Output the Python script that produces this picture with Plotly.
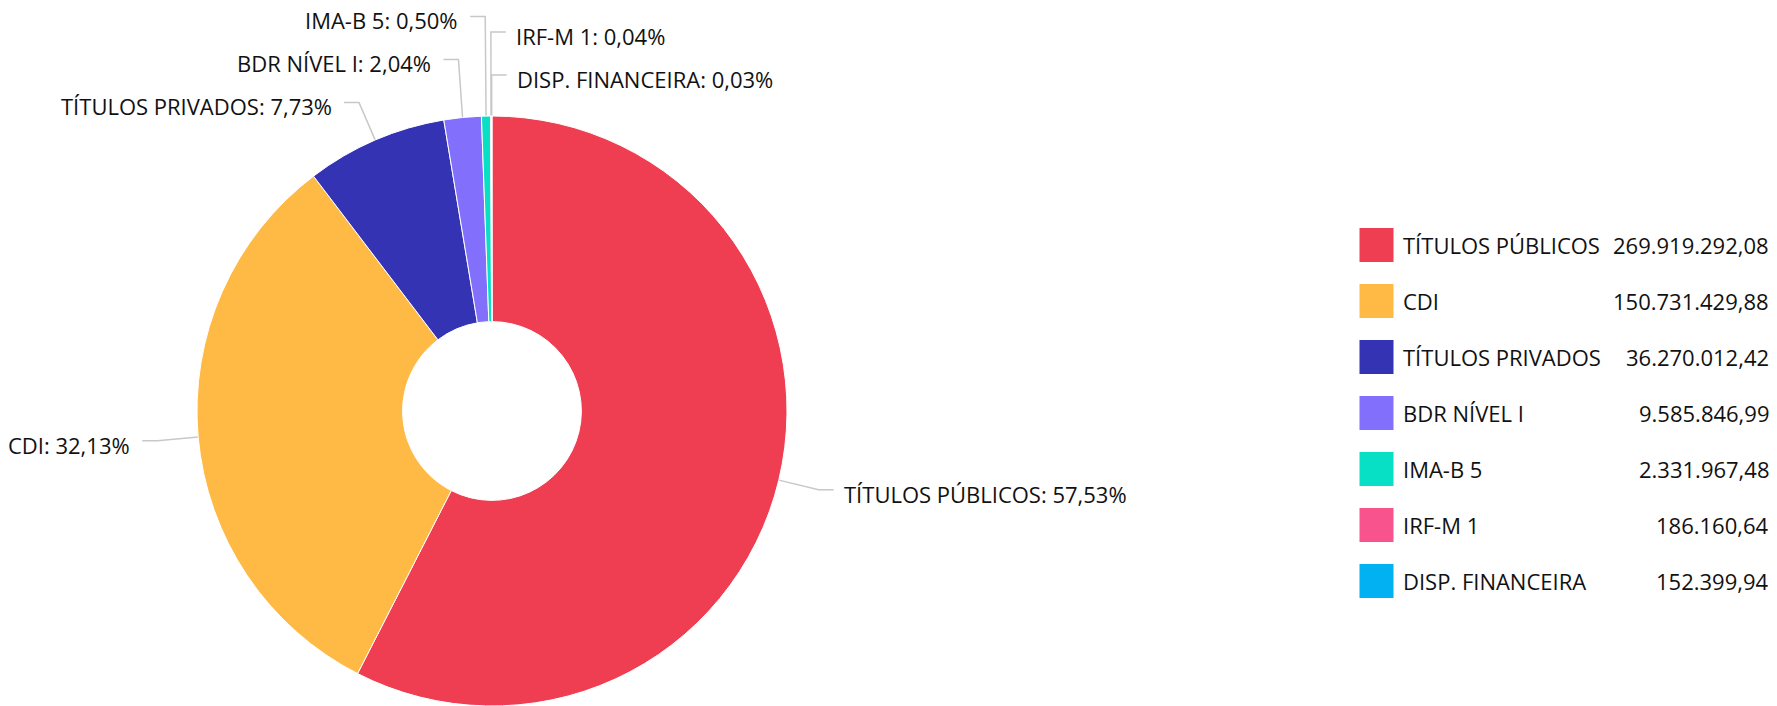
import math
import plotly.graph_objects as go

# ---------------- data ----------------
categories = ["TÍTULOS PÚBLICOS", "CDI", "TÍTULOS PRIVADOS", "BDR NÍVEL I",
              "IMA-B 5", "IRF-M 1", "DISP. FINANCEIRA"]
values = [269919292.08, 150731429.88, 36270012.42, 9585846.99,
          2331967.48, 186160.64, 152399.94]
colors = ["#EF3D52", "#FFBA45", "#3333B3", "#8270FC", "#07E0C4", "#F9538D", "#01B1F1"]

# ---------------- layout constants ----------------
PAGE_W, PAGE_H = 1777, 706
OFF = 8                    # default body margin of the html page
W, H = PAGE_W - OFF, PAGE_H - OFF
CX, R = 492 - OFF, 295     # pie centre x and radius (px, figure space)
CY = H - R                 # pie sits on the bottom edge
HOLE = 0.303
R_LABEL = R + 41           # radius where connectors break
SPACING = 43               # min vertical distance between labels
HSEG = 15                  # horizontal connector segment
FONT = "Open Sans"
FS = 22
TXT = "#111111"
LINE = "#c8c8c8"

LEG_TOP, LEG_ROW = 217 - OFF, 56
SW_X, NAME_X, VAL_X = 1376.5 - OFF, 1401 - OFF, 1771 - OFF


def br_num(v):
    s = f"{v:,.2f}"
    return s.replace(",", "#").replace(".", ",").replace("#", ".")


def br_pct(p):
    return f"{p:.2f}".replace(".", ",") + "%"


total = sum(values)
pcts = [v / total * 100 for v in values]
mids = []
acc = 0.0
for v in values:
    mids.append(360.0 * (acc + v / 2) / total)
    acc += v

fig = go.Figure()

fig.add_trace(go.Pie(
    labels=categories, values=values, sort=False, direction="clockwise", rotation=0,
    hole=HOLE, textinfo="none", hoverinfo="label+percent+value",
    marker=dict(colors=colors, line=dict(color="#ffffff", width=1)),
    domain=dict(x=[(CX - R) / W, (CX + R) / W], y=[0, 2 * R / H]),
    showlegend=False,
))

# ---------------- outside labels with connectors ----------------
def pt(theta, r):
    a = math.radians(theta)
    return CX + r * math.sin(a), CY - r * math.cos(a)

right, left = [], []
for i, th in enumerate(mids):
    if th < 180 or th > 359.5:
        right.append(i)
    else:
        left.append(i)
right.sort(key=lambda i: mids[i] - 360 if mids[i] > 180 else mids[i])
left.sort(key=lambda i: -mids[i])

label_y = {}
for group in (right, left):
    nxt = None
    for i in reversed(group):
        y = pt(mids[i], R_LABEL)[1]
        if nxt is not None:
            y = min(y, nxt - SPACING)
        label_y[i] = y
        nxt = y

lx, ly = [], []
annotations = []
for i in range(len(categories)):
    side = 1 if i in right else -1
    tx, ty = pt(mids[i], R)
    bx, _ = pt(mids[i], R_LABEL)
    by = label_y[i]
    ex = bx + side * HSEG
    lx += [tx, bx, ex, None]
    ly += [ty, by, by, None]
    annotations.append(dict(
        x=ex + (8 if side > 0 else -10), y=by + 4, xref="x", yref="y",
        text=f"{categories[i]}: {br_pct(pcts[i])}",
        showarrow=False, xanchor="left" if side > 0 else "right", yanchor="middle",
        font=dict(family=FONT, size=FS, color=TXT),
    ))

fig.add_trace(go.Scatter(x=lx, y=ly, mode="lines", line=dict(color=LINE, width=1.5),
                         hoverinfo="skip", showlegend=False, xaxis="x", yaxis="y"))

# ---------------- custom legend ----------------
fig.add_trace(go.Scatter(
    x=[SW_X] * len(categories), y=categories, mode="markers",
    marker=dict(symbol="square", size=34, color=colors, line=dict(width=0)),
    hoverinfo="skip", showlegend=False, xaxis="x2", yaxis="y2"))

for i, c in enumerate(categories):
    annotations.append(dict(x=NAME_X, y=c, xref="x2", yref="y2", text=c, showarrow=False,
                            xanchor="left", yanchor="middle",
                            font=dict(family=FONT, size=FS, color=TXT)))
    annotations.append(dict(x=VAL_X, y=c, xref="x2", yref="y2", text=br_num(values[i]),
                            showarrow=False, xanchor="right", yanchor="middle",
                            font=dict(family=FONT, size=FS, color=TXT)))

n = len(categories)
leg_bottom = LEG_TOP + n * LEG_ROW
hidden = dict(visible=False, showgrid=False, zeroline=False, fixedrange=True)
fig.update_layout(
    width=W, height=H, margin=dict(l=0, r=0, t=0, b=0),
    paper_bgcolor="#ffffff", plot_bgcolor="rgba(0,0,0,0)",
    font=dict(family=FONT, size=FS, color=TXT),
    showlegend=False,
    xaxis=dict(range=[0, W], domain=[0, 1], **hidden),
    yaxis=dict(range=[H, 0], domain=[0, 1], **hidden),
    xaxis2=dict(range=[0, W], domain=[0, 1], anchor="y2", **hidden),
    yaxis2=dict(type="category", categoryorder="array", categoryarray=categories,
                range=[n - 0.5, -0.5], domain=[(H - leg_bottom) / H, (H - LEG_TOP) / H],
                anchor="x2", **hidden),
    annotations=annotations,
)

fig.write_html("out.html")
